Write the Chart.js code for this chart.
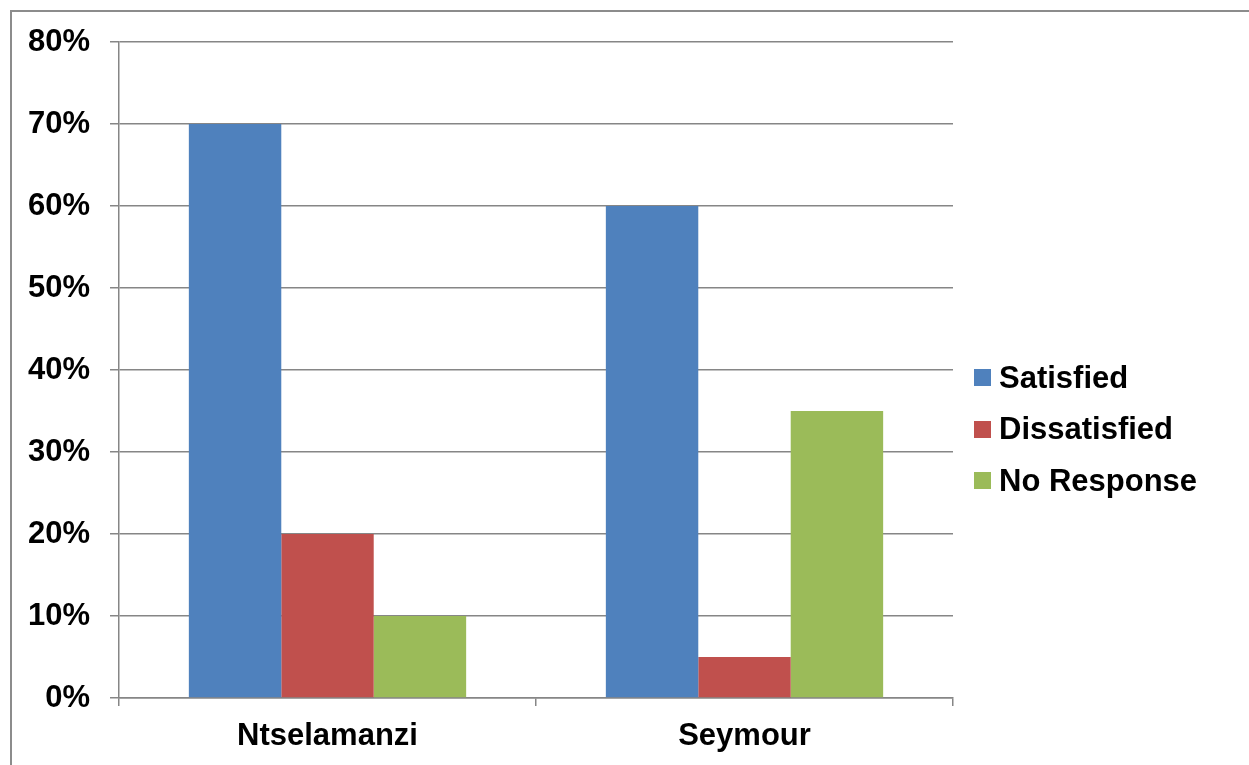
<!DOCTYPE html>
<html>
<head>
<meta charset="utf-8">
<script src="https://cdn.jsdelivr.net/npm/chart.js@4/dist/chart.umd.min.js"></script>
<style>
    html, body { margin: 0; padding: 0; background: #fff; overflow: hidden; }
    #wrap { position: relative; width: 1249px; height: 765px; }
    #frame {
        position: absolute; left: 10px; top: 10px; right: -10px; bottom: -10px;
        border-top: 2px solid #8c8c8c; border-left: 2px solid #8c8c8c;
    }
    #chart { position: absolute; left: 0; top: 0; }
    #legend {
        position: absolute; left: 974px; top: 360px;
        font: bold 31px "Liberation Sans", Arial, sans-serif; color: #000;
    }
    .leg-item { display: flex; align-items: center; height: 35px; margin-bottom: 16.5px; }
    .leg-box { width: 17px; height: 17px; margin-right: 8px; flex: none; }
</style>
</head>
<body>
<div id="wrap">
    <div id="frame"></div>
    <canvas id="chart" width="1249" height="765"></canvas>
    <div id="legend"></div>
</div>
<script>
// values (percent)
const categories = ["Ntselamanzi", "Seymour"];
const seriesNames = ["Satisfied", "Dissatisfied", "No Response"];
const satisfied = [70, 60];
const dissatisfied = [20, 5];
const noResponse = [10, 35];
const seriesColors = ["#4f81bd", "#c0504d", "#9bbb59"];

const yMax = 80;
const yStep = 10;

const gridColor = "#868686";
const tickFont = { family: "'Liberation Sans', Arial, sans-serif", size: 31, weight: "bold" };

const values = [satisfied, dissatisfied, noResponse];

new Chart(document.getElementById("chart"), {
    type: "bar",
    data: {
        labels: categories,
        datasets: seriesNames.map((name, i) => ({
            label: name,
            data: values[i],
            backgroundColor: seriesColors[i],
            borderWidth: 0,
            categoryPercentage: 0.665,
            barPercentage: 1.0,
        })),
    },
    options: {
        responsive: false,
        animation: false,
        layout: { padding: { top: 42, right: 296, bottom: 0, left: 0 } },
        plugins: { legend: { display: false }, tooltip: { enabled: false } },
        scales: {
            x: {
                grid: { offset: true, drawOnChartArea: false, drawTicks: true, tickLength: 8, color: gridColor, lineWidth: 1.5 },
                border: { display: true, color: gridColor, width: 1.5 },
                ticks: { color: "#000", font: tickFont, padding: 12 },
                afterFit: (s) => { s.height = 67; },
            },
            y: {
                min: 0,
                max: yMax,
                grid: { color: gridColor, lineWidth: 1.5, tickLength: 9 },
                border: { display: true, color: gridColor, width: 1.5 },
                ticks: { stepSize: yStep, color: "#000", font: tickFont, padding: 20, callback: (v) => v + "%" },
                afterFit: (s) => { s.width = 119; },
            },
        },
    },
});

// legend as html, same names/colors as the datasets
const legend = document.getElementById("legend");
legend.innerHTML = seriesNames.map((name, i) =>
    `<div class="leg-item"><span class="leg-box" style="background:${seriesColors[i]}"></span><span>${name}</span></div>`
).join("");
</script>
</body>
</html>
